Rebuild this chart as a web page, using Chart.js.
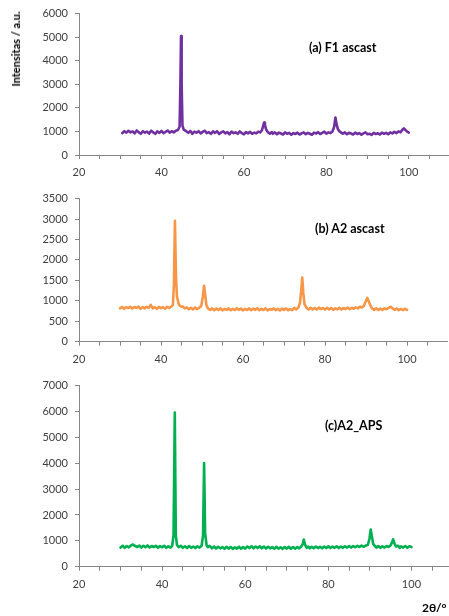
<!DOCTYPE html>
<html>
<head>
<meta charset="utf-8">
<script src="https://cdn.jsdelivr.net/npm/chart.js@4.4.0/dist/chart.umd.min.js"></script>
<style>
html,body{margin:0;padding:0;background:#fff;width:449px;height:616px;overflow:hidden;position:relative;}
canvas{position:absolute;left:0;}
.lbl{position:absolute;font-family:Lato,"Open Sans",sans-serif;font-weight:bold;color:#000;white-space:nowrap;line-height:16px;}
</style>
</head>
<body>
<canvas id="c1"></canvas>
<canvas id="c2"></canvas>
<canvas id="c3"></canvas>
<div class="lbl" style="left:15.5px;top:49px;font-size:11px;transform:translate(-50%,-50%) rotate(-90deg);">Intensitas / a.u.</div>
<div class="lbl" style="left:309px;top:40px;font-size:12.5px;">(a) F1 ascast</div>
<div class="lbl" style="left:315px;top:221px;font-size:12.5px;">(b) A2 ascast</div>
<div class="lbl" style="left:325px;top:418px;font-size:12.5px;">(c)A2_APS</div>
<div class="lbl" style="left:422px;top:600px;font-size:12px;">2θ/°</div>
<script>
// ---- data ----
const xTickLabels = [20, 40, 60, 80, 100];
const seriesNames = ["(a) F1 ascast", "(b) A2 ascast", "(c)A2_APS"];

// [2θ, intensity]
const f1Points = [
[30.5,930],[31,1010],[31.5,950],[32,1030],[32.5,960],[33,1000],[33.5,920],[34,1040],[34.5,970],[35,900],
[35.5,1010],[36,950],[36.5,990],[37,910],[37.5,1030],[38,960],[38.5,900],[39,1000],[39.5,940],[40,1020],
[40.5,930],[41,980],[41.5,1040],[42,950],[42.5,1010],[43,960],[43.5,1030],
[44,1060],[44.4,1200],[44.6,3000],[44.75,5050],[44.9,3000],[45.1,1250],[45.4,1080],[46,1010],
[46.5,940],[47,1020],[47.5,900],[48,990],[48.5,950],[49,1010],[49.5,920],[50,980],[50.5,1030],[51,930],
[51.5,970],[52,900],[52.5,1000],[53,940],[53.5,1010],[54,890],[54.5,960],[55,1000],[55.5,920],[56,970],
[56.5,880],[57,990],[57.5,930],[58,960],[58.5,900],[59,1000],[59.5,930],[60,880],[60.5,970],[61,920],
[61.5,980],[62,900],[62.5,950],[63,920],[63.5,990],[64,960],
[64.4,1060],[64.7,1250],[64.9,1380],[65.1,1280],[65.4,1080],[65.8,970],[66.3,910],[66.8,970],
[67,900],[67.5,960],[68,880],[68.5,950],[69,910],[69.5,870],[70,960],[70.5,900],[71,940],[71.5,860],
[72,930],[72.5,890],[73,950],[73.5,870],[74,920],[74.5,960],[75,880],[75.5,940],[76,900],[76.5,860],
[77,950],[77.5,910],[78,970],[78.5,890],[79,940],[79.5,990],[80,910],[80.5,960],[81,930],[81.5,1000],
[81.9,1200],[82.2,1590],[82.5,1300],[82.8,1100],[83.2,1000],[83.7,940],
[84,900],[84.5,960],[85,880],[85.5,940],[86,910],[86.5,870],[87,950],[87.5,890],[88,930],[88.5,860],
[89,920],[89.5,960],[90,880],[90.5,900],[91,850],[91.5,940],[92,890],[92.5,920],[93,870],[93.5,950],
[94,900],[94.5,940],[95,880],[95.5,960],[96,920],[96.5,980],[97,930],[97.5,1000],[98,960],
[98.4,1060],[98.8,1130],[99.2,1060],[99.6,1000],[100,950]
];

const a2Points = [
[30,815],[30.5,850],[31,805],[31.5,845],[32,820],[32.5,855],[33,810],[33.5,850],[34,825],[34.5,860],
[35,805],[35.5,845],[36,815],[36.5,855],[37,825],[37.5,900],[38,815],[38.5,845],[39,805],[39.5,850],
[40,820],[40.5,845],[41,805],[41.5,855],[42,825],[42.5,855],
[42.9,900],[43.15,1400],[43.4,2960],[43.65,1600],[43.9,1100],[44.3,920],[44.8,860],
[45.3,860],[45.8,815],[46.3,840],[46.8,795],[47.3,830],[47.8,790],[48.3,835],[48.8,800],[49.3,830],
[49.8,870],[50.2,1100],[50.5,1370],[50.8,1120],[51.1,880],
[51.5,810],[52,775],[52.5,815],[53,770],[53.5,810],[54,775],[54.5,815],[55,765],[55.5,800],[56,780],
[56.5,815],[57,770],[57.5,805],[58,775],[58.5,820],[59,780],[59.5,810],[60,765],[60.5,805],[61,775],
[61.5,815],[62,770],[62.5,810],[63,780],[63.5,820],[64,770],[64.5,805],[65,775],[65.5,815],[66,765],
[66.5,800],[67,780],[67.5,815],[68,770],[68.5,805],[69,765],[69.5,810],[70,780],[70.5,815],[71,770],
[71.5,795],[72,775],[72.5,830],[73,790],[73.5,835],
[73.9,950],[74.2,1250],[74.45,1570],[74.7,1200],[75,920],
[75.5,830],[76,785],[76.5,830],[77,790],[77.5,825],[78,785],[78.5,835],[79,800],[79.5,825],[80,785],
[80.5,830],[81,790],[81.5,825],[82,780],[82.5,815],[83,790],[83.5,830],[84,785],[84.5,825],[85,800],
[85.5,835],[86,795],[86.5,830],[87,805],[87.5,840],[88,815],[88.5,855],[89,835],[89.5,880],
[89.9,980],[90.3,1070],[90.7,980],[91.1,880],
[91.5,810],[92,780],[92.5,815],[93,775],[93.5,810],[94,780],[94.5,815],[95,795],[95.5,825],[96,855],
[96.5,815],[97,780],[97.5,810],[98,770],[98.5,805],[99,775],[99.5,805],[100,780]
];

const apsPoints = [
[30,740],[30.5,810],[31,730],[31.5,800],[32,750],[32.5,820],[33,860],[33.5,800],[34,760],[34.5,820],
[35,740],[35.5,810],[36,750],[36.5,820],[37,740],[37.5,800],[38,760],[38.5,810],[39,730],[39.5,800],
[40,750],[40.5,810],[41,730],[41.5,790],[42,740],[42.4,800],
[42.75,1200],[43.05,5960],[43.3,1200],[43.6,830],
[44,760],[44.5,810],[45,730],[45.5,790],[46,720],[46.5,800],[47,730],[47.5,780],[48,720],[48.5,790],
[49,740],[49.5,810],[49.85,1200],[50.1,4010],[50.35,1300],[50.7,830],
[51,760],[51.5,800],[52,710],[52.5,780],[53,700],[53.5,770],[54,710],[54.5,760],[55,690],[55.5,770],
[56,700],[56.5,760],[57,690],[57.5,750],[58,700],[58.5,770],[59,690],[59.5,760],[60,700],[60.5,780],
[61,720],[61.5,790],[62,710],[62.5,780],[63,720],[63.5,790],[64,710],[64.5,780],[65,700],[65.5,770],
[66,710],[66.5,760],[67,690],[67.5,770],[68,700],[68.5,750],[69,690],[69.5,760],[70,700],[70.5,770],
[71,690],[71.5,760],[72,700],[72.5,760],[73,710],[73.5,780],
[73.8,860],[74.1,1050],[74.4,850],[74.8,730],
[75.2,780],[75.5,710],[76,770],[76.5,710],[77,780],[77.5,720],[78,770],[78.5,710],[79,780],[79.5,720],
[80,790],[80.5,720],[81,780],[81.5,730],[82,790],[82.5,720],[83,780],[83.5,730],[84,790],[84.5,740],
[85,800],[85.5,740],[86,800],[86.5,750],[87,810],[87.5,760],[88,820],[88.5,770],[89,820],[89.5,840],
[89.9,1080],[90.2,1440],[90.5,1150],[90.8,880],
[91.2,800],[91.6,740],[92,800],[92.5,730],[93,790],[93.5,740],[94,800],[94.5,760],[95,830],
[95.3,930],[95.6,1060],[95.9,900],[96.3,780],
[96.8,810],[97.2,730],[97.5,790],[98,740],[98.5,800],[99,730],[99.5,790],[100,760]
];

const y1Ticks = {max: 6000, step: 1000};
const y2Ticks = {max: 3500, step: 500};
const y3Ticks = {max: 7000, step: 1000};

// ---- rendering ----
Chart.defaults.font.family = 'Lato, "Open Sans", sans-serif';
Chart.defaults.font.size = 11;
Chart.defaults.color = '#404040';

const AXIS = '#868686';

function toPts(pairs){ return pairs.map(p=>({x:p[0], y:p[1]})); }

function makeChart(id, cfg){
  const cv = document.getElementById(id);
  cv.style.top = cfg.top + 'px';
  cv.style.width = cfg.width + 'px';
  cv.style.height = cfg.height + 'px';
  cv.width = cfg.width; cv.height = cfg.height;
  return new Chart(cv, {
    type: 'line',
    data: { datasets: [{
      label: cfg.name,
      data: toPts(cfg.pts),
      borderColor: cfg.color,
      backgroundColor: cfg.color,
      borderWidth: 2.6,
      borderJoinStyle: 'round',
      borderCapStyle: 'round',
      pointRadius: 0,
      tension: 0,
      fill: false
    }]},
    options: {
      responsive: false,
      animation: false,
      devicePixelRatio: 1,
      layout: { padding: { top: cfg.padTop, left: 0, right: 0, bottom: 0 } },
      plugins: { legend: {display:false}, tooltip: {enabled:false}, title:{display:false} },
      scales: {
        x: {
          type: 'linear', min: 20, max: 110,
          afterFit: s => { s.height = cfg.xh; s.paddingRight = 0; s.paddingLeft = 0; },
          border: { display: true, color: AXIS, width: 1 },
          grid: { drawOnChartArea: false, drawTicks: true, tickLength: 4, color: AXIS },
          ticks: { stepSize: 5, autoSkip: false, maxRotation: 0, padding: 7,
            callback: v => xTickLabels.includes(v) ? String(v) : '' }
        },
        y: {
          type: 'linear', min: 0, max: cfg.yt.max,
          afterFit: s => { s.width = 79; },
          border: { display: true, color: AXIS, width: 1 },
          grid: { drawOnChartArea: false, drawTicks: true, tickLength: 4, color: AXIS },
          ticks: { stepSize: cfg.yt.step, padding: 7, callback: v => String(v) }
        }
      }
    }
  });
}

makeChart('c1', {top:0, height:185, width:450, padTop:12.3, xh:30, pts:f1Points, color:'#7030A0', yt:y1Ticks, name:seriesNames[0]});
makeChart('c2', {top:185, height:187, width:448, padTop:12.7, xh:30.3, pts:a2Points, color:'#F79646', yt:y2Ticks, name:seriesNames[1]});
makeChart('c3', {top:372, height:244, width:453, padTop:12.7, xh:49.3, pts:apsPoints, color:'#00B050', yt:y3Ticks, name:seriesNames[2]});
</script>
</body>
</html>
